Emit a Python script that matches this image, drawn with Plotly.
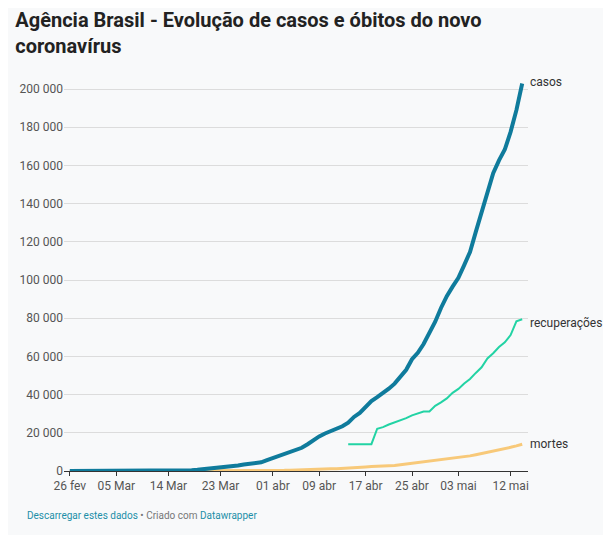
import pandas as pd
import plotly.graph_objects as go

dates = pd.date_range("2020-02-26", "2020-05-14")

casos = [1, 1, 1, 2, 2, 2, 2, 3, 8, 13, 19, 25, 25, 34, 52, 77, 98, 121, 200, 234,
         291, 428, 621, 904, 1128, 1546, 1891, 2201, 2433, 2915, 3417, 3904, 4256,
         4579, 5717, 6836, 8044, 9056, 10360, 11130, 12161, 14034, 16170, 18092,
         19638, 20727, 22169, 23430, 25262, 28320, 30425, 33682, 36599, 38654,
         40581, 43079, 45757, 49492, 52995, 58509, 61888, 66501, 71886, 78162,
         85380, 91589, 96559, 101147, 107780, 114715, 125218, 135106, 145328,
         155939, 162699, 168331, 177589, 188974, 202918]

mortes = [0] * 20 + [1, 4, 7, 11, 18, 25, 34, 46, 59, 77, 92, 111, 136, 159, 201,
         240, 324, 359, 445, 486, 553, 667, 800, 941, 1056, 1124, 1223, 1328,
         1532, 1736, 1924, 2141, 2354, 2462, 2575, 2741, 2906, 3331, 3704, 4057,
         4286, 4603, 5083, 5513, 5901, 6329, 6750, 7025, 7321, 7921, 8536, 9146,
         9897, 10627, 10999, 11519, 12400, 13149, 13993]
mortes = mortes[-len(dates):]

rec_dates = pd.date_range("2020-04-14", "2020-05-14")
recuperacoes = [14026, 14026, 14026, 14026, 14026, 22130, 22991, 24325,
                25318, 26573, 27655, 29160, 30152, 31142, 31142, 34132, 35935,
                38039, 40937, 42991, 45815, 48221, 51370, 54331, 58966, 61685,
                64957, 67384, 71200, 78424, 79479]

tickvals = [pd.Timestamp(d) for d in ["2020-02-26", "2020-03-05", "2020-03-14", "2020-03-23",
            "2020-04-01", "2020-04-09", "2020-04-17", "2020-04-25", "2020-05-03", "2020-05-12"]]
ticktext = ["26 fev", "05 Mar", "14 Mar", "23 Mar", "01 abr", "09 abr", "17 abr",
            "25 abr", "03 mai", "12 mai"]

fig = go.Figure()
fig.add_trace(go.Scatter(x=dates, y=mortes, mode="lines", line=dict(color="#f8c979", width=3)))
fig.add_trace(go.Scatter(x=rec_dates, y=recuperacoes, mode="lines", line=dict(color="#22d3a4", width=2)))
fig.add_trace(go.Scatter(x=dates, y=casos, mode="lines", line=dict(color="#0f7b9c", width=4)))

labels = [("casos", casos[-1] + 1000), ("recuperações", recuperacoes[-1] - 2000), ("mortes", mortes[-1])]
for txt, yv in labels:
    fig.add_annotation(x=dates[-1], y=yv, text=txt, showarrow=False, xanchor="left",
                       xshift=6, font=dict(size=12, color="#333"))

fig.update_layout(
    width=611, height=535, showlegend=False,
    paper_bgcolor="#f8f9fa", plot_bgcolor="#f8f9fa",
    font=dict(family="Roboto", size=12, color="#555"),
    margin=dict(l=56, r=91, t=62, b=72),
    title=dict(text="<b>Agência Brasil - Evolução de casos e óbitos do novo<br>coronavírus</b>",
               x=0.012, xanchor="left", yref="container", y=0.965, yanchor="top",
               font=dict(size=20, color="#222")),
    separators=", ",
)
fig.update_xaxes(tickvals=tickvals, ticktext=ticktext, showgrid=False, showline=True,
                 linecolor="#333", ticks="outside", ticklen=4, tickcolor="#333",
                 range=[pd.Timestamp("2020-02-25"), pd.Timestamp("2020-05-15")])
fig.update_yaxes(range=[0, 210000], dtick=20000, tickformat=",d", gridcolor="#dcdcdc",
                 zeroline=False)
fig.add_annotation(xref="paper", yref="paper", x=-0.085, y=-0.13, xanchor="left", showarrow=False,
                   text="<span style='color:#1d8fa8'>Descarregar estes dados</span> • Criado com "
                        "<span style='color:#1d8fa8'>Datawrapper</span>",
                   font=dict(size=10, color="#777"))
fig.write_html("out.html")
